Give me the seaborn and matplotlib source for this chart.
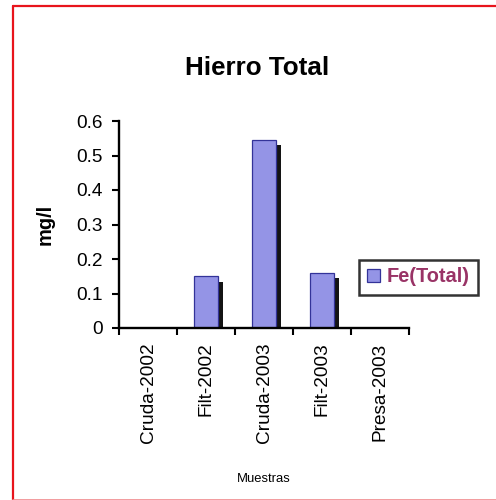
import matplotlib
matplotlib.use("Agg")
import matplotlib.pyplot as plt
from matplotlib.lines import Line2D
from matplotlib.patches import Patch
from matplotlib.transforms import ScaledTranslation
import numpy as np
import pandas as pd
import seaborn as sns

# Iron concentration per sample (mg/l)
muestras = ["Cruda-2002", "Filt-2002", "Cruda-2003", "Filt-2003", "Presa-2003"]
fe_total = [0.0, 0.15, 0.545, 0.16, 0.0]
y_ticks = [0, 0.1, 0.2, 0.3, 0.4, 0.5, 0.6]
y_tick_labels = ["0", "0.1", "0.2", "0.3", "0.4", "0.5", "0.6"]

df = pd.DataFrame({"Muestras": muestras, "Fe": fe_total})

sns.set_style("white")
plt.rcParams["font.family"] = ["Liberation Sans", "DejaVu Sans"]

DPI = 100
W, H = 496, 500
fig = plt.figure(figsize=(W / DPI, H / DPI), dpi=DPI)
fig.patch.set_facecolor("white")

# axes box in pixel terms: x 119..409, y 121..328 (top-down)
ax = fig.add_axes([119 / W, (H - 328) / H, 290 / W, 207 / H])
ax.set_facecolor("white")

# drop shadow behind each bar
sns.barplot(data=df, x="Muestras", y="Fe", order=muestras, color="#141414",
            width=0.4, saturation=1, linewidth=0, ax=ax, errorbar=None)
shift = ScaledTranslation(5.5 / DPI, -5.5 / DPI, fig.dpi_scale_trans)
for p in list(ax.patches):
    p.set_transform(ax.transData + shift)

# main bars
sns.barplot(data=df, x="Muestras", y="Fe", order=muestras, color="#9494E6",
            width=0.4, saturation=1, edgecolor="#333399", linewidth=0.9,
            ax=ax, errorbar=None)

ax.set_xlim(-0.5, len(muestras) - 0.5)
ax.set_ylim(0, 0.6)

# spines
for s in ["top", "right"]:
    ax.spines[s].set_visible(False)
for s in ["left", "bottom"]:
    ax.spines[s].set_color("black")
    ax.spines[s].set_linewidth(1.7)
    ax.spines[s].set_zorder(5)

tick_fs = 13.7
ax.set_yticks(y_ticks)
ax.set_yticklabels(y_tick_labels, fontsize=tick_fs, color="black")
ax.tick_params(axis="y", direction="out", length=5, width=1.5, color="black",
               pad=6.5, left=True)

# category boundaries carry the tick marks, centers carry the labels
ax.set_xticks(np.arange(-0.5, len(muestras)), minor=False)
ax.set_xticklabels([""] * (len(muestras) + 1))
ax.set_xticks(np.arange(len(muestras)), minor=True)
ax.set_xticklabels(muestras, minor=True, rotation=90, fontsize=tick_fs,
                   color="black", va="top", ha="center")
ax.tick_params(axis="x", which="major", direction="out", length=5, width=1.5,
               color="black", bottom=True)
ax.tick_params(axis="x", which="minor", length=0, pad=10.5, bottom=True)

ax.set_xlabel("Muestras", fontsize=9.4, color="black")
ax.xaxis.set_label_coords(0.5, (328 - 479) / 207)
ax.xaxis.label.set_va("center")
ax.set_ylabel("mg/l", fontsize=14.4, fontweight="bold", color="black")
ax.yaxis.set_label_coords((45 - 119) / 290, (328 - 224) / 207)
ax.yaxis.label.set_va("center")

ax.text((257 - 119) / 290, (328 - 68) / 207, "Hierro Total",
        transform=ax.transAxes, fontsize=18.7, fontweight="bold",
        color="black", ha="center", va="center")

handle = Patch(facecolor="#9494E6", edgecolor="#333399", linewidth=0.9)
leg = ax.legend([handle], ["Fe(Total)"], loc="center left",
                bbox_to_anchor=((359 - 119) / 290, (328 - 277) / 207),
                borderaxespad=0, fancybox=False, frameon=True,
                prop={"size": 14.4, "weight": "bold"},
                handlelength=0.65, handleheight=0.65, handletextpad=0.35,
                borderpad=0.4)
leg.get_frame().set_edgecolor("black")
leg.get_frame().set_linewidth(1.8)
for t in leg.get_texts():
    t.set_color("#993366")

# red outer frame (right side falls outside the canvas)
red = "#E8141C"
fig.add_artist(Line2D([12.5 / W, 12.5 / W], [(H - 6) / H, (H - 499.5) / H],
                      transform=fig.transFigure, color=red, lw=1.6))
fig.add_artist(Line2D([12.5 / W, 1.0], [(H - 6) / H, (H - 6) / H],
                      transform=fig.transFigure, color=red, lw=1.6))
fig.add_artist(Line2D([12.5 / W, 1.0], [0.5 / H, 0.5 / H],
                      transform=fig.transFigure, color="#F08A8E", lw=1.2))

fig.savefig("out.png", dpi=DPI, facecolor="white")
